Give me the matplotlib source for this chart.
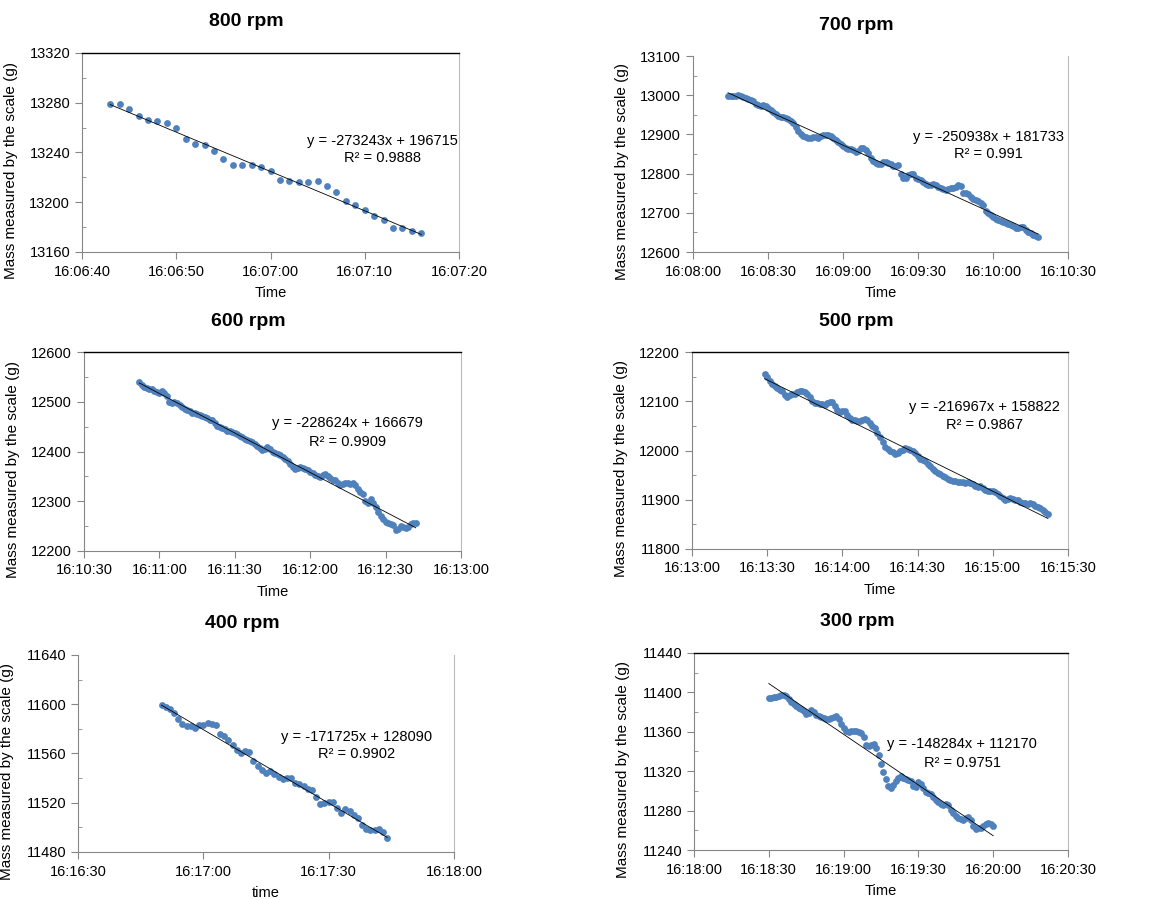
import numpy as np
import matplotlib
matplotlib.use("Agg")
import matplotlib.pyplot as plt
from matplotlib.ticker import FixedLocator, FuncFormatter

plt.rcParams['font.family'] = ['Liberation Sans', 'DejaVu Sans']

# --- data (one reading per second) ---
titles = ['800 rpm', '700 rpm', '600 rpm', '500 rpm', '400 rpm', '300 rpm']
start_times = ['16:06:43', '16:08:14', '16:10:52', '16:13:29', '16:16:50', '16:18:30']

mass_800 = [13279, 13279, 13275, 13269, 13266, 13265, 13264, 13260, 13251, 13247,
            13246, 13241, 13235, 13230, 13230, 13230, 13228, 13225, 13218, 13217,
            13216, 13216, 13217, 13213, 13208, 13201, 13198, 13194, 13189, 13186,
            13179, 13179, 13177, 13175]

mass_700 = [12998, 12997, 12997, 12998, 13000, 12998, 12995, 12993, 12990, 12988,
            12985, 12978, 12974, 12973, 12974, 12973, 12968, 12963, 12957, 12952,
            12947, 12944, 12944, 12943, 12939, 12935, 12928, 12920, 12908, 12900,
            12896, 12893, 12890, 12890, 12893, 12894, 12892, 12895, 12898, 12898,
            12898, 12895, 12891, 12886, 12881, 12875, 12870, 12866, 12863, 12862,
            12861, 12855, 12858, 12866, 12866, 12861, 12852, 12840, 12833, 12828,
            12825, 12825, 12829, 12830, 12827, 12825, 12819, 12820, 12823, 12800,
            12788, 12790, 12797, 12800, 12798, 12789, 12786, 12783, 12779, 12773,
            12770, 12772, 12773, 12771, 12766, 12762, 12760, 12759, 12760, 12762,
            12764, 12767, 12770, 12768, 12751, 12750, 12748, 12741, 12736, 12732,
            12729, 12725, 12719, 12705, 12699, 12695, 12690, 12684, 12682, 12680,
            12677, 12674, 12672, 12669, 12666, 12660, 12661, 12665, 12663, 12657,
            12651, 12648, 12644, 12642, 12638]

mass_600 = [12539, 12534, 12530, 12527, 12526, 12525, 12522, 12519, 12518, 12521,
            12518, 12512, 12500, 12498, 12499, 12498, 12493, 12490, 12486, 12484,
            12481, 12478, 12477, 12475, 12474, 12471, 12469, 12467, 12464, 12463,
            12458, 12451, 12449, 12447, 12445, 12442, 12441, 12440, 12438, 12435,
            12432, 12429, 12425, 12423, 12421, 12419, 12416, 12412, 12408, 12404,
            12406, 12409, 12405, 12399, 12397, 12394, 12393, 12389, 12385, 12380,
            12375, 12369, 12365, 12367, 12368, 12366, 12365, 12363, 12359, 12356,
            12352, 12350, 12349, 12352, 12355, 12350, 12346, 12343, 12342, 12336,
            12332, 12335, 12337, 12336, 12335, 12336, 12332, 12325, 12319, 12315,
            12300, 12296, 12305, 12297, 12288, 12279, 12270, 12264, 12258, 12256,
            12255, 12252, 12243, 12245, 12250, 12248, 12246, 12249, 12254, 12257,
            12256]

mass_500 = [12155, 12150, 12141, 12136, 12130, 12127, 12123, 12121, 12112, 12109,
            12112, 12115, 12114, 12118, 12121, 12120, 12118, 12115, 12108, 12100,
            12097, 12096, 12095, 12094, 12092, 12096, 12099, 12098, 12090, 12082,
            12078, 12080, 12081, 12072, 12065, 12062, 12061, 12060, 12060, 12061,
            12064, 12062, 12055, 12049, 12045, 12036, 12027, 12018, 12008, 12003,
            11999, 11996, 11993, 11995, 11998, 12002, 12005, 12004, 12002, 11999,
            11995, 11989, 11983, 11980, 11978, 11972, 11968, 11963, 11958, 11955,
            11952, 11949, 11946, 11943, 11941, 11939, 11938, 11937, 11936, 11936,
            11935, 11936, 11934, 11932, 11928, 11926, 11927, 11924, 11919, 11918,
            11917, 11918, 11915, 11911, 11908, 11903, 11899, 11902, 11904, 11902,
            11900, 11899, 11896, 11894, 11893, 11892, 11893, 11892, 11888, 11886,
            11883, 11880, 11876, 11872]

mass_400 = [11599, 11598, 11596, 11593, 11588, 11584, 11582, 11582, 11581, 11583,
            11583, 11585, 11584, 11583, 11576, 11574, 11571, 11567, 11563, 11560,
            11562, 11561, 11554, 11550, 11547, 11544, 11546, 11543, 11541, 11539,
            11540, 11540, 11536, 11535, 11534, 11531, 11530, 11525, 11519, 11520,
            11521, 11521, 11516, 11512, 11515, 11513, 11510, 11508, 11502, 11499,
            11498, 11498, 11499, 11496, 11491]

mass_300 = [11394, 11394, 11395, 11395, 11396, 11397, 11397, 11396, 11393, 11390,
            11388, 11386, 11384, 11383, 11381, 11378, 11379, 11382, 11380, 11377,
            11376, 11375, 11374, 11373, 11373, 11374, 11375, 11376, 11373, 11368,
            11364, 11361, 11360, 11361, 11361, 11361, 11360, 11359, 11355, 11347,
            11346, 11347, 11348, 11344, 11336, 11327, 11319, 11312, 11305, 11303,
            11306, 11310, 11313, 11315, 11313, 11312, 11311, 11310, 11305, 11304,
            11309, 11307, 11303, 11299, 11298, 11297, 11294, 11291, 11289, 11287,
            11286, 11287, 11286, 11281, 11278, 11275, 11272, 11271, 11270, 11272,
            11274, 11270, 11264, 11261, 11262, 11262, 11264, 11266, 11267, 11266,
            11264]

masses = [mass_800, mass_700, mass_600, mass_500, mass_400, mass_300]

# Excel trendline (x in fraction of a day)
slopes = [-273243, -250938, -228624, -216967, -171725, -148284]
intercepts = [196715, 181733, 166679, 158822, 128090, 112170]
r2_labels = ['0.9888', '0.991', '0.9909', '0.9867', '0.9902', '0.9751']

x_ranges = [('16:06:40', '16:07:20', 10), ('16:08:00', '16:10:30', 30),
            ('16:10:30', '16:13:00', 30), ('16:13:00', '16:15:30', 30),
            ('16:16:30', '16:18:00', 30), ('16:18:00', '16:20:30', 30)]
y_ranges = [(13160, 13320, 40), (12600, 13100, 100), (12200, 12600, 100),
            (11800, 12200, 100), (11480, 11640, 40), (11240, 11440, 40)]
x_labels = ['Time', 'Time', 'Time', 'Time', 'time', 'Time']
y_label = 'Mass measured by the scale (g)'

# --- layout (pixels: left, top, right, bottom) ---
W, H = 1161, 899
boxes = [(82, 53, 459, 252), (693, 56, 1068, 252), (84, 352, 461, 551),
         (692, 352, 1068, 549), (78, 655, 454, 852), (694, 653, 1068, 850)]
eq_pos = [(0.798, 0.558, 0.472), (0.789, 0.587, 0.500), (0.700, 0.643, 0.548),
          (0.779, 0.721, 0.629), (0.740, 0.584, 0.497), (0.717, 0.538, 0.442)]
top_line = [True, False, True, True, False, True]

blue = '#4F81BD'
grey = '#868686'


def to_sec(s):
    h, m, sec = s.split(':')
    return int(h) * 3600 + int(m) * 60 + int(sec)


def fmt_time(x, pos=None):
    s = int(round(x * 86400))
    return '%d:%02d:%02d' % (s // 3600, (s % 3600) // 60, s % 60)


fig = plt.figure(figsize=(W / 100, H / 100), dpi=100)

for i in range(6):
    l, t, r, b = boxes[i]
    w, h = r - l, b - t
    ax = fig.add_axes([l / W, 1 - b / H, w / W, h / H])

    t0 = to_sec(start_times[i])
    x = (t0 + np.arange(len(masses[i]))) / 86400.0
    y = np.array(masses[i])
    ax.plot(x, y, 'o', color=blue, markersize=4.9, markeredgewidth=0, zorder=2)

    xt = np.array([x[0], x[-1]])
    ax.plot(xt, slopes[i] * xt + intercepts[i], color='black', lw=0.6, zorder=3)

    xs, xe, xstep = x_ranges[i]
    xticks = np.arange(to_sec(xs), to_sec(xe) + 1, xstep) / 86400.0
    ax.set_xlim(xticks[0], xticks[-1])
    ax.xaxis.set_major_locator(FixedLocator(xticks))
    ax.xaxis.set_major_formatter(FuncFormatter(fmt_time))

    y0, y1, ystep = y_ranges[i]
    ax.set_ylim(y0, y1)
    ax.yaxis.set_major_locator(FixedLocator(np.arange(y0, y1 + 1, ystep)))
    ax.yaxis.set_minor_locator(FixedLocator(np.arange(y0 + ystep / 2, y1, ystep)))

    ax.tick_params(axis='both', which='major', direction='out', length=5,
                   color=grey, labelsize=10.5, pad=3.5)
    ax.tick_params(axis='x', pad=4)
    ax.tick_params(axis='y', which='minor', direction='in', length=3, color=grey)

    ax.spines['left'].set_color(grey)
    ax.spines['bottom'].set_color(grey)
    ax.spines['right'].set_color('#BBBBBB')
    if top_line[i]:
        ax.spines['top'].set_color('black')
        ax.spines['top'].set_linewidth(1.0)
    else:
        ax.spines['top'].set_visible(False)

    ax.set_ylabel(y_label, fontsize=11)
    ax.yaxis.set_label_coords(-64 / w, 0.41)
    ax.set_xlabel(x_labels[i], fontsize=10.5, va='center')
    ax.xaxis.set_label_coords(0.5, -41 / h)

    ax.text(0.5 - 24 / w, 1 + 31 / h, titles[i], transform=ax.transAxes,
            ha='center', va='center', fontsize=14, fontweight='bold')

    ex, ey1, ey2 = eq_pos[i]
    ax.text(ex, ey1, 'y = %dx + %d' % (slopes[i], intercepts[i]),
            transform=ax.transAxes, ha='center', va='center', fontsize=10.5)
    ax.text(ex, ey2, 'R\u00b2 = ' + r2_labels[i],
            transform=ax.transAxes, ha='center', va='center', fontsize=10.5)

fig.savefig('out.png', dpi=100)
